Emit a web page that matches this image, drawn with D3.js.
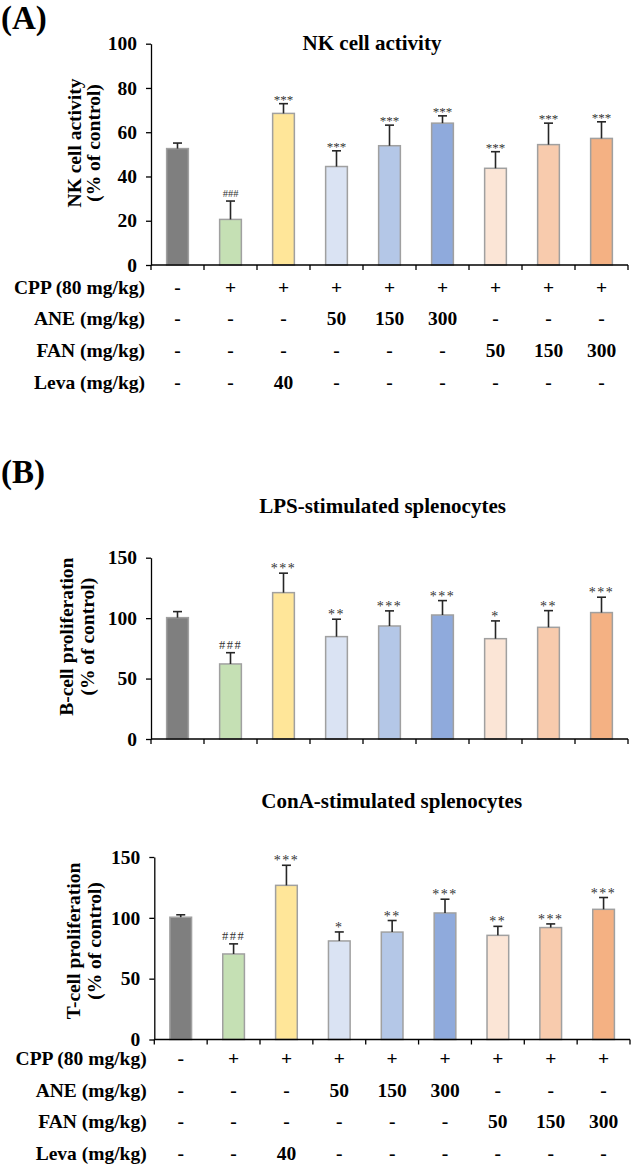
<!DOCTYPE html>
<html>
<head>
<meta charset="utf-8">
<script src="https://cdn.jsdelivr.net/npm/d3@7"></script>
<style>
  html, body { margin: 0; padding: 0; background: #fff; }
  svg { display: block; }
  text { font-family: "Liberation Serif", "Times New Roman", Times, serif; font-weight: bold; fill: #000; }
</style>
</head>
<body>
<svg id="chart" width="632" height="1166"></svg>
<script>
// ---------------- DATA ----------------
const groups = ["Control", "CPP", "CPP+Leva", "ANE 50", "ANE 150", "ANE 300", "FAN 50", "FAN 150", "FAN 300"];

const nkMean = [52.6, 20.6, 68.5, 44.5, 53.9, 64.1, 43.7, 54.4, 57.2];
const nkErr  = [2.5, 8.3, 4.4, 7.1, 9.3, 3.3, 7.5, 9.7, 7.5];
const nkSig  = ["", "###", "***", "***", "***", "***", "***", "***", "***"];

const lpsMean = [100.4, 62.1, 121.1, 84.7, 93.5, 102.6, 83.0, 92.4, 104.6];
const lpsErr  = [5.0, 9.3, 16.1, 14.4, 12.5, 11.9, 14.7, 13.8, 12.7];
const lpsSig  = ["", "###", "***", "**", "***", "***", "*", "**", "***"];

const conaMean = [100.5, 70.3, 126.7, 81.0, 88.3, 104.0, 85.6, 92.0, 107.0];
const conaErr  = [2.0, 8.3, 16.5, 7.4, 9.5, 11.3, 7.4, 3.0, 9.7];
const conaSig  = ["", "###", "***", "*", "**", "***", "**", "***", "***"];

const yTicksNK  = [0, 20, 40, 60, 80, 100];
const yTicksPro = [0, 50, 100, 150];

const rowLabels = ["CPP (80 mg/kg)", "ANE (mg/kg)", "FAN (mg/kg)", "Leva (mg/kg)"];
const cppRow  = ["-", "+", "+", "+", "+", "+", "+", "+", "+"];
const aneRow  = ["-", "-", "-", "50", "150", "300", "-", "-", "-"];
const fanRow  = ["-", "-", "-", "-", "-", "-", "50", "150", "300"];
const levaRow = ["-", "-", "40", "-", "-", "-", "-", "-", "-"];

// ---------------- STYLE ----------------
const barColors = ["#7f7f7f", "#c5e0b4", "#ffe699", "#dae3f3", "#b4c7e7", "#8faadc", "#fbe5d6", "#f8cbad", "#f4b183"];

const svg = d3.select("#chart");

function panel(cfg) {
  const g = svg.append("g");
  const x = d3.scaleBand().domain(groups).range([cfg.x0, cfg.x1]).padding(0);
  const y = d3.scaleLinear().domain([0, cfg.max]).range([cfg.yb, cfg.yt]);
  const bw = x.bandwidth() * 0.41;

  // title
  g.append("text").attr("x", cfg.tx).attr("y", cfg.ty)
    .attr("text-anchor", "middle").style("font-size", "21px").text(cfg.title);

  // y axis title (two lines)
  cfg.ylab.forEach((t, i) => {
    g.append("text")
      .attr("transform", `translate(${cfg.ylx[i]},${cfg.lyc}) rotate(-90)`)
      .attr("text-anchor", "middle").style("font-size", "19.5px").text(t);
  });

  // bars
  g.selectAll("rect.bar").data(groups).join("rect")
    .attr("class", "bar")
    .attr("x", d => x(d) + x.bandwidth() / 2 - bw / 2)
    .attr("width", bw)
    .attr("y", (d, i) => y(cfg.mean[i]))
    .attr("height", (d, i) => y(0) - y(cfg.mean[i]))
    .attr("fill", (d, i) => barColors[i])
    .attr("stroke", "#a0a0a0").attr("stroke-width", 1.5);

  // error bars
  const eb = g.selectAll("g.err").data(groups).join("g").attr("class", "err");
  eb.append("line")
    .attr("x1", d => x(d) + x.bandwidth() / 2).attr("x2", d => x(d) + x.bandwidth() / 2)
    .attr("y1", (d, i) => y(cfg.mean[i])).attr("y2", (d, i) => y(cfg.mean[i] + cfg.err[i]))
    .attr("stroke", "#262626").attr("stroke-width", 1.6);
  eb.append("line")
    .attr("x1", d => x(d) + x.bandwidth() / 2 - 4.5).attr("x2", d => x(d) + x.bandwidth() / 2 + 4.5)
    .attr("y1", (d, i) => y(cfg.mean[i] + cfg.err[i])).attr("y2", (d, i) => y(cfg.mean[i] + cfg.err[i]))
    .attr("stroke", "#262626").attr("stroke-width", 1.6);

  // significance marks
  g.selectAll("text.sig").data(groups).join("text")
    .attr("class", "sig")
    .attr("x", d => x(d) + x.bandwidth() / 2)
    .attr("y", (d, i) => y(cfg.mean[i] + cfg.err[i]) - (cfg.sig[i].startsWith("#") ? 4 : 0))
    .attr("text-anchor", "middle")
    .style("font-weight", "normal")
    .style("fill", "#333")
    .style("font-size", (d, i) => (cfg.sig[i].startsWith("#") ? cfg.hashSize : cfg.starSize) + "px")
    .style("letter-spacing", cfg.spacing + "px")
    .text((d, i) => cfg.sig[i]);

  // y axis
  const ya = g.append("g").attr("transform", `translate(${cfg.x0},0)`)
    .call(d3.axisLeft(y).tickValues(cfg.ticks).tickSize(5).tickSizeOuter(0).tickPadding(9).tickFormat(d3.format("d")));
  ya.select(".domain").attr("stroke", "#000").attr("stroke-width", 1.3);
  ya.selectAll(".tick line").attr("stroke", "#000").attr("stroke-width", 1.3);
  ya.selectAll(".tick text").style("font-size", "19.5px").style("font-family", "'Liberation Serif', 'Times New Roman', serif").style("font-weight", "bold").attr("fill", "#000");

  // x axis line & ticks at band boundaries
  g.append("line").attr("x1", cfg.x0).attr("x2", cfg.x1).attr("y1", y(0)).attr("y2", y(0))
    .attr("stroke", "#000").attr("stroke-width", 1.3);
  const edges = groups.map(d => x(d)).concat([x(groups[groups.length - 1]) + x.bandwidth()]);
  g.selectAll("line.xt").data(edges).join("line").attr("class", "xt")
    .attr("x1", d => d).attr("x2", d => d).attr("y1", y(0)).attr("y2", y(0) + 5)
    .attr("stroke", "#000").attr("stroke-width", 1.3);

  // treatment table
  if (cfg.table) {
    const rows = [cppRow, aneRow, fanRow, levaRow];
    rows.forEach((row, r) => {
      const yy = cfg.table.y0 + r * cfg.table.dy;
      g.append("text").attr("x", cfg.table.lx).attr("y", yy)
        .attr("text-anchor", "end").style("font-size", "19.5px").text(rowLabels[r]);
      g.selectAll(null).data(row).join("text")
        .attr("x", (d, i) => x(groups[i]) + x.bandwidth() / 2)
        .attr("y", yy)
        .attr("text-anchor", "middle").style("font-size", "19.5px")
        .text(d => d);
    });
  }
}

// panel letters
svg.append("text").attr("x", 1).attr("y", 29).style("font-size", "33px").text("(A)");
svg.append("text").attr("x", 1).attr("y", 483).style("font-size", "33px").text("(B)");

panel({
  title: "NK cell activity", tx: 372, ty: 50,
  ylab: ["NK cell activity", "(% of control)"], ylx: [81, 100], lyc: 143,
  x0: 151, x1: 628, yb: 265, yt: 43.7, max: 100, ticks: yTicksNK,
  mean: nkMean, err: nkErr, sig: nkSig, starSize: 13, hashSize: 10.5, spacing: 0,
  table: { y0: 293.5, dy: 31.7, lx: 145 }
});

panel({
  title: "LPS-stimulated splenocytes", tx: 382.5, ty: 513,
  ylab: ["B-cell proliferation", "(% of control)"], ylx: [73, 93.5], lyc: 636.7,
  x0: 151, x1: 628, yb: 739, yt: 557.7, max: 150, ticks: yTicksPro,
  mean: lpsMean, err: lpsErr, sig: lpsSig, starSize: 14, hashSize: 12.5, spacing: 1.5,
  table: null
});

panel({
  title: "ConA-stimulated splenocytes", tx: 391.7, ty: 808,
  ylab: ["T-cell proliferation", "(% of control)"], ylx: [79.5, 100.5], lyc: 941,
  x0: 154.3, x1: 630, yb: 1039.5, yt: 857, max: 150, ticks: yTicksPro,
  mean: conaMean, err: conaErr, sig: conaSig, starSize: 14, hashSize: 12.5, spacing: 1.5,
  table: { y0: 1065, dy: 31.6, lx: 146.7 }
});
</script>
</body>
</html>
